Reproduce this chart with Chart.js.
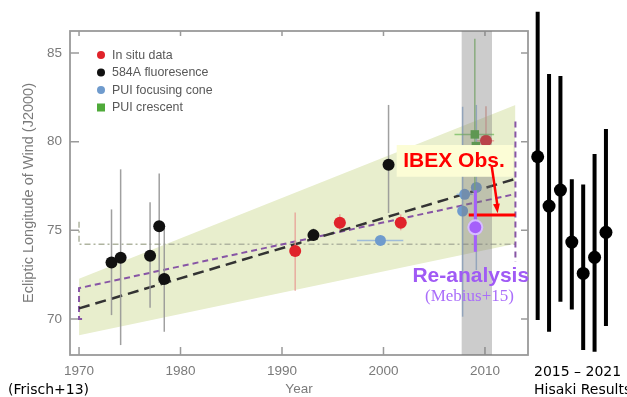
<!DOCTYPE html>
<html>
<head>
<meta charset="utf-8">
<script src="https://cdn.jsdelivr.net/npm/chart.js@4.4.1/dist/chart.umd.min.js"></script>
<style>
  html, body { margin: 0; padding: 0; background: #ffffff; }
  #wrap { position: relative; width: 627px; height: 397px; }
</style>
</head>
<body>
<div id="wrap"><canvas id="c" width="627" height="397"></canvas></div>
<script>
// ---------------- DATA ----------------
const xTicks = [1970, 1980, 1990, 2000, 2010];
const yTicks = [70, 75, 80, 85];

// In situ data (red)
const insituYears  = [1991.3, 1995.7, 2001.7, 2010.1];
const insituValues = [73.83, 75.43, 75.43, 80.05];
const insituLow    = [71.6, 75.0, 75.0, 78.1];
const insituHigh   = [76.0, 75.9, 75.9, 82.0];
const insituXLow   = [1991.3, 1995.1, 2001.1, 2009.2];
const insituXHigh  = [1991.3, 1996.3, 2002.3, 2010.9];

// 584A fluoresence (black)
const fluorYears  = [1973.2, 1974.1, 1977.0, 1977.9, 1978.4, 1993.1, 2000.5];
const fluorValues = [73.19, 73.45, 73.57, 75.23, 72.25, 74.73, 78.70];
const fluorLow    = [70.22, 68.53, 70.63, 72.03, 69.28, 74.40, 75.98];
const fluorHigh   = [76.18, 78.44, 76.58, 78.21, 75.13, 75.10, 82.07];

// PUI focusing cone (blue)
const coneYears  = [1999.7, 2007.8, 2008.0, 2009.15];
const coneValues = [74.43, 76.09, 77.03, 77.42];
const coneLow    = [74.43, 70.13, 77.03, 72.76];
const coneHigh   = [74.43, 81.97, 77.03, 82.07];
const coneXLow   = [1997.4, 2007.8, 2007.2, 2009.15];
const coneXHigh  = [2001.95, 2007.8, 2008.8, 2009.15];

// PUI crescent (green)
const crescentYears  = [2009.0, 2009.1];
const crescentValues = [80.41, 79.75];
const crescentLow    = [75.2, 79.75];
const crescentHigh   = [85.8, 79.75];
const crescentXLow   = [2007.0, 2009.1];
const crescentXHigh  = [2010.9, 2009.1];

// Re-analysis (Mebius+15)
const reanalysisYears  = [2009.05];
const reanalysisValues = [75.17];
const reanalysisLow    = [73.79];
const reanalysisHigh   = [77.26];

// IBEX observation level
const ibexYears  = [2008.4, 2013.0];
const ibexValues = [75.86, 75.86];

// Hisaki results 2015-2021
const hisakiYears  = [2015, 2016, 2017, 2018, 2019, 2020, 2021];
const hisakiValues = [79.15, 76.37, 77.27, 74.34, 72.57, 73.48, 74.89];
const hisakiLow    = [69.94, 69.28, 70.97, 70.54, 68.25, 68.15, 69.60];
const hisakiHigh   = [87.33, 83.82, 83.70, 77.88, 77.59, 79.30, 80.71];

// Fit lines and confidence band
const fitYears        = [1970, 2013];
const fitValues       = [70.6, 77.9];
const bandUpperValues = [72.27, 82.07];
const bandLowerValues = [69.09, 74.25];
const purpleFitYears  = [1970.3, 1970, 1970, 2013];
const purpleFitValues = [70.0, 70.0, 71.74, 77.05];
const purpleEdgeYears  = [2013, 2013];
const purpleEdgeValues = [81.13, 73.23];
const meanYears  = [1970, 1970, 2013];
const meanValues = [75.48, 74.21, 74.21];
const highlightYears = [2007.68, 2010.7];

// ---------------- helpers ----------------
const pts = (xs, ys) => xs.map((x, i) => ({x: x, y: ys[i]}));
const Y_MIN = 67.97, Y_MAX = 86.24;

const errorBarPlugin = {
  id: 'errorBars',
  beforeDatasetDraw(chart, args) {
    const ds = chart.data.datasets[args.index];
    if (!ds.errLow) return;
    const meta = args.meta;
    const xs = chart.scales[meta.xAxisID], ys = chart.scales[meta.yAxisID];
    const ctx = chart.ctx;
    ctx.save();
    ctx.strokeStyle = ds.errColor;
    ctx.lineWidth = ds.errWidth || 1.5;
    ctx.lineCap = 'butt';
    ds.data.forEach((p, i) => {
      const px = xs.getPixelForValue(p.x), py = ys.getPixelForValue(p.y);
      if (ds.errLow[i] !== ds.errHigh[i]) {
        ctx.beginPath();
        ctx.moveTo(px, ys.getPixelForValue(ds.errLow[i]));
        ctx.lineTo(px, ys.getPixelForValue(ds.errHigh[i]));
        ctx.stroke();
      }
      if (ds.xErrLow && ds.xErrLow[i] !== ds.xErrHigh[i]) {
        ctx.beginPath();
        ctx.moveTo(xs.getPixelForValue(ds.xErrLow[i]), py);
        ctx.lineTo(xs.getPixelForValue(ds.xErrHigh[i]), py);
        ctx.stroke();
      }
    });
    ctx.restore();
  },
  afterDatasetDraw(chart, args) {
    // markers lying outside the chart area (Hisaki) are skipped by Chart.js; draw them at the element positions
    const ds = chart.data.datasets[args.index];
    if (!ds.outsideMarkers) return;
    const ctx = chart.ctx;
    ctx.save();
    ctx.fillStyle = ds.backgroundColor;
    args.meta.data.forEach(el => {
      ctx.beginPath();
      ctx.arc(el.x, el.y, ds.pointRadius, 0, Math.PI * 2);
      ctx.fill();
    });
    ctx.restore();
  }
};

const framePlugin = {
  id: 'frame',
  beforeDatasetsDraw(chart) {
    const {ctx, chartArea: a} = chart;
    const xs = chart.scales.x, ys = chart.scales.y;
    ctx.save();
    ctx.strokeStyle = '#9a9a9a';
    ctx.lineWidth = 1.8;
    ctx.strokeRect(a.left, a.top, a.right - a.left, a.bottom - a.top);
    ctx.lineWidth = 1.5;
    ctx.beginPath();
    xTicks.forEach(v => {
      const px = xs.getPixelForValue(v);
      ctx.moveTo(px, a.bottom); ctx.lineTo(px, a.bottom - 8);
      ctx.moveTo(px, a.top); ctx.lineTo(px, a.top + 5);
    });
    yTicks.forEach(v => {
      const py = ys.getPixelForValue(v);
      ctx.moveTo(a.left, py); ctx.lineTo(a.left + 9, py);
      ctx.moveTo(a.right, py); ctx.lineTo(a.right - 7, py);
    });
    ctx.stroke();
    // legend
    const items = [
      {label: 'In situ data', color: '#e0232b', shape: 'circle'},
      {label: '584A fluoresence', color: '#111111', shape: 'circle'},
      {label: 'PUI focusing cone', color: '#6f9bcd', shape: 'circle'},
      {label: 'PUI crescent', color: '#4faa3a', shape: 'rect'}
    ];
    ctx.font = '12.4px "Liberation Sans", Arial, sans-serif';
    ctx.textBaseline = 'middle';
    ctx.textAlign = 'left';
    items.forEach((it, i) => {
      const mx = a.left + 31, my = a.top + 24 + i * 17.5;
      ctx.fillStyle = it.color;
      if (it.shape === 'circle') { ctx.beginPath(); ctx.arc(mx, my, 4, 0, Math.PI * 2); ctx.fill(); }
      else ctx.fillRect(mx - 4, my - 4, 8, 8);
      ctx.fillStyle = '#585858';
      ctx.fillText(it.label, mx + 11, my + 0.5);
    });
    ctx.restore();
  }
};

const annotationPlugin = {
  id: 'notes',
  afterDatasetsDraw(chart) {
    const {ctx} = chart;
    const xs = chart.scales.x, ys = chart.scales.y;
    const X = v => xs.getPixelForValue(v), Y = v => ys.getPixelForValue(v);
    ctx.save();
    // IBEX box
    ctx.fillStyle = 'rgb(252,253,214)';
    ctx.fillRect(X(2001.3), Y(79.81), X(2012.8) - X(2001.3), Y(78.02) - Y(79.81));
    ctx.fillStyle = '#ff0000';
    ctx.font = 'bold 21px "Liberation Sans", Arial, sans-serif';
    ctx.textAlign = 'center';
    ctx.textBaseline = 'middle';
    ctx.fillText('IBEX Obs.', X(2006.95), Y(78.87));
    // arrow
    const x1 = X(2010.66), y1 = Y(78.63), x2 = X(2011.25), y2 = Y(75.97);
    ctx.strokeStyle = '#ff0000';
    ctx.lineWidth = 2.5;
    ctx.beginPath(); ctx.moveTo(x1, y1); ctx.lineTo(x2, y2 - 6); ctx.stroke();
    const ang = Math.atan2(y2 - y1, x2 - x1);
    ctx.beginPath();
    ctx.moveTo(x2, y2);
    ctx.lineTo(x2 - 10 * Math.cos(ang - 0.35), y2 - 10 * Math.sin(ang - 0.35));
    ctx.lineTo(x2 - 10 * Math.cos(ang + 0.35), y2 - 10 * Math.sin(ang + 0.35));
    ctx.closePath(); ctx.fillStyle = '#ff0000'; ctx.fill();
    // Re-analysis label
    ctx.fillStyle = 'rgb(160,90,245)';
    ctx.font = 'bold 21px "Liberation Sans", Arial, sans-serif';
    ctx.fillText('Re-analysis', X(2008.6), Y(72.42));
    ctx.fillStyle = 'rgb(170,110,250)';
    ctx.font = '17px "Liberation Serif", "Times New Roman", serif';
    ctx.fillText('(Mebius+15)', X(2008.47), Y(71.29));
    // outer texts
    ctx.fillStyle = '#000000';
    ctx.font = '14px "DejaVu Sans", Verdana, sans-serif';
    ctx.textAlign = 'left';
    ctx.fillText('(Frisch+13)', 8, 390);
    ctx.fillText('2015 \u2013 2021', 534, 372);
    ctx.fillText('Hisaki Results', 534, 390);
    ctx.restore();
  }
};

const tickFont = {family: '"Liberation Sans", Arial, sans-serif', size: 13.5};

const config = {
  type: 'scatter',
  data: {
    datasets: [
      { // Hisaki
        label: 'Hisaki', xAxisID: 'x2', data: pts(hisakiYears, hisakiValues),
        errLow: hisakiLow, errHigh: hisakiHigh, errColor: '#000000', errWidth: 4,
        outsideMarkers: true,
        pointRadius: 6.5, pointHoverRadius: 6.5, backgroundColor: '#000000', borderColor: '#000000',
        borderWidth: 0, showLine: false, clip: false, order: 1
      },
      { // Re-analysis
        label: 'Re-analysis', data: pts(reanalysisYears, reanalysisValues),
        errLow: reanalysisLow, errHigh: reanalysisHigh, errColor: 'rgb(165,95,250)', errWidth: 3,
        pointRadius: 7, backgroundColor: 'rgb(165,95,250)', borderColor: 'rgb(215,190,255)',
        borderWidth: 2, showLine: false, order: 3
      },
      { // IBEX level
        label: 'IBEX', type: 'line', data: pts(ibexYears, ibexValues),
        borderColor: '#ff0000', borderWidth: 3, pointRadius: 0, fill: false, order: 4
      },
      { // highlight
        label: 'highlight', type: 'line', data: pts(highlightYears, [Y_MAX, Y_MAX]),
        borderWidth: 0, borderColor: 'rgba(0,0,0,0)', pointRadius: 0,
        fill: 'start', backgroundColor: 'rgba(120,120,120,0.38)', order: 5
      },
      { // crescent
        label: 'PUI crescent', data: pts(crescentYears, crescentValues),
        errLow: crescentLow, errHigh: crescentHigh, xErrLow: crescentXLow, xErrHigh: crescentXHigh,
        errColor: 'rgba(120,190,100,0.8)', errWidth: 1.5,
        pointStyle: 'rect', pointRadius: 6, backgroundColor: '#4faa3a', borderWidth: 0, order: 6
      },
      { // cone
        label: 'PUI focusing cone', data: pts(coneYears, coneValues),
        errLow: coneLow, errHigh: coneHigh, xErrLow: coneXLow, xErrHigh: coneXHigh,
        errColor: 'rgba(140,175,220,0.8)', errWidth: 1.5,
        pointRadius: 5.5, backgroundColor: '#6f9bcd', borderWidth: 0, order: 7
      },
      { // in situ
        label: 'In situ data', data: pts(insituYears, insituValues),
        errLow: insituLow, errHigh: insituHigh, xErrLow: insituXLow, xErrHigh: insituXHigh,
        errColor: 'rgba(232,160,150,0.85)', errWidth: 1.5,
        pointRadius: 6, backgroundColor: '#e0232b', borderWidth: 0, order: 8
      },
      { // fluoresence
        label: '584A fluoresence', data: pts(fluorYears, fluorValues),
        errLow: fluorLow, errHigh: fluorHigh, errColor: 'rgba(150,150,150,0.9)', errWidth: 1.5,
        pointRadius: 6, backgroundColor: '#111111', borderWidth: 0, order: 9
      },
      { // black fit
        label: 'fit', type: 'line', data: pts(fitYears, fitValues),
        borderColor: '#333333', borderWidth: 2.5, borderDash: [11, 6], pointRadius: 0, fill: false, order: 10
      },
      { // purple fit
        label: 'purple fit', type: 'line', data: pts(purpleFitYears, purpleFitValues),
        borderColor: 'rgb(135,85,165)', borderWidth: 2, borderDash: [6, 4], pointRadius: 0, fill: false, order: 11
      },
      { // purple edge
        label: 'purple edge', type: 'line', data: pts(purpleEdgeYears, purpleEdgeValues),
        borderColor: 'rgb(135,85,165)', borderWidth: 2, borderDash: [6, 4], pointRadius: 0, fill: false, order: 11
      },
      { // mean
        label: 'mean', type: 'line', data: pts(meanYears, meanValues),
        borderColor: 'rgb(175,180,160)', borderWidth: 1.5, borderDash: [6, 3, 2, 3], pointRadius: 0, fill: false, order: 12
      },
      { // band upper
        label: 'band', type: 'line', data: pts(fitYears, bandUpperValues),
        borderWidth: 0, borderColor: 'rgba(0,0,0,0)', pointRadius: 0,
        fill: '+1', backgroundColor: 'rgb(232,238,205)', order: 20
      },
      { // band lower
        label: 'band lower', type: 'line', data: pts(fitYears, bandLowerValues),
        borderWidth: 0, borderColor: 'rgba(0,0,0,0)', pointRadius: 0, fill: false, order: 21
      }
    ]
  },
  options: {
    responsive: false,
    animation: false,
    events: [],
    layout: {padding: {top: 31, right: 99, bottom: 0, left: 0}},
    plugins: {legend: {display: false}, tooltip: {enabled: false}},
    scales: {
      x: {
        type: 'linear', position: 'bottom', min: 1969.11, max: 2014.24,
        afterBuildTicks: s => { s.ticks = xTicks.map(v => ({value: v})); },
        afterFit: s => { s.height = 42; },
        grid: {display: false}, border: {display: false},
        ticks: {callback: v => String(v), color: '#7a7a7a', font: tickFont, padding: 0, maxRotation: 0},
        title: {display: true, text: 'Year', color: '#7a7a7a', font: {family: tickFont.family, size: 13.5}, padding: {top: 0, bottom: 0}}
      },
      x2: {
        type: 'linear', display: false, min: 1973.9, max: 2014.15
      },
      y: {
        type: 'linear', position: 'left', min: Y_MIN, max: Y_MAX,
        afterBuildTicks: s => { s.ticks = yTicks.map(v => ({value: v})); },
        afterFit: s => { s.width = 70; },
        grid: {display: false}, border: {display: false},
        ticks: {callback: v => String(v), color: '#7a7a7a', font: tickFont, padding: 0},
        title: {display: true, text: 'Ecliptic Longitude of Wind (J2000)', color: '#7a7a7a', font: {family: tickFont.family, size: 14.5}, padding: {top: 20, bottom: 0}}
      }
    }
  },
  plugins: [errorBarPlugin, framePlugin, annotationPlugin]
};

new Chart(document.getElementById('c'), config);
</script>
</body>
</html>
